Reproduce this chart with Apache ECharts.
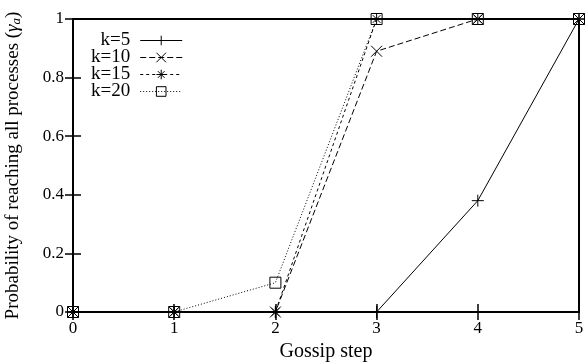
<!DOCTYPE html>
<html>
<head>
<meta charset="utf-8">
<script src="https://cdn.jsdelivr.net/npm/echarts@6/dist/echarts.min.js"></script>
<style>
  html, body { margin: 0; padding: 0; background: #fff; }
  #chart { width: 587px; height: 362px; }
</style>
</head>
<body>
<div id="chart"></div>
<script>
// gossip steps and reach probabilities per fanout k
const steps = [0, 1, 2, 3, 4, 5]
const k5 = [0, 0, 0, 0, 0.38, 1]
const k10 = [0, 0, 0, 0.89, 1, 1]
const k15 = [0, 0, 0, 1, 1, 1]
const k20 = [0, 0, 0.1, 1, 1, 1]

const font = 'Liberation Serif'

// stroked marker shapes (gnuplot style)
const plus = 'path://M0,5 L10,5 M5,0 L5,10'
const cross = 'path://M0,0 L10,10 M0,10 L10,0'
const star = 'path://M0,5 L10,5 M5,0 L5,10 M1.5,1.5 L8.5,8.5 M1.5,8.5 L8.5,1.5'

function pairs(ys) {
  return steps.map((x, i) => [x, ys[i]])
}

function mk(name, ys, symbol, size, type) {
  return {
    name: name,
    type: 'line',
    data: pairs(ys),
    symbol: symbol,
    symbolSize: size,
    showAllSymbol: true,
    animation: false,
    itemStyle: { color: 'transparent', borderColor: '#000', borderWidth: 1 },
    lineStyle: { color: '#000', width: 1, type: type },
    emphasis: { disabled: true }
  }
}

const chart = echarts.init(document.getElementById('chart'))

const tick = { show: true, inside: true, length: 8, lineStyle: { color: '#000', width: 1.5 } }
const line = { show: true, lineStyle: { color: '#000', width: 2 } }

const option = {
  backgroundColor: '#fff',
  textStyle: { fontFamily: font, color: '#000' },
  grid: {
    left: 73, right: 8, top: 19, bottom: 50,
    outerBoundsMode: 'none', containLabel: false,
    show: true, borderColor: '#000', borderWidth: 2
  },
  legend: {
    orient: 'vertical',
    left: 86,
    top: 26,
    align: 'right',
    itemWidth: 42,
    itemHeight: 12,
    itemGap: -2,
    textStyle: { fontFamily: font, fontSize: 19, color: '#000', padding: [0, 5, 0, 0] },
    itemStyle: { color: 'transparent', borderColor: '#000', borderWidth: 1 },
    lineStyle: { width: 1 },
    data: ['k=5', 'k=10', 'k=15', 'k=20']
  },
  xAxis: [
    {
      type: 'value', min: 0, max: 5, interval: 1,
      name: 'Gossip step', nameLocation: 'middle', nameGap: 30,
      nameTextStyle: { fontFamily: font, fontSize: 20, color: '#000' },
      axisLine: line,
      axisTick: tick,
      axisLabel: { fontFamily: font, fontSize: 17, color: '#000', margin: 8 },
      splitLine: { show: false }
    },
    {
      type: 'value', min: 0, max: 5, interval: 1, position: 'top',
      axisLine: line,
      axisTick: tick,
      axisLabel: { show: false },
      splitLine: { show: false }
    }
  ],
  yAxis: [
    {
      type: 'value', min: 0, max: 1, interval: 0.2,
      name: 'Probability of reaching all processes ({g|γ}{s|a})',
      nameLocation: 'middle', nameGap: 50,
      nameTextStyle: {
        fontFamily: font, fontSize: 19, color: '#000',
        rich: {
          g: { fontFamily: font, fontSize: 19, fontStyle: 'italic', color: '#000' },
          s: { fontFamily: font, fontSize: 13, fontStyle: 'italic', color: '#000', verticalAlign: 'bottom', padding: [7, 0, 0, 0] }
        }
      },
      axisLine: line,
      axisTick: tick,
      axisLabel: { fontFamily: font, fontSize: 17, color: '#000', margin: 9 },
      splitLine: { show: false }
    },
    {
      type: 'value', min: 0, max: 1, interval: 0.2, position: 'right',
      axisLine: line,
      axisTick: tick,
      axisLabel: { show: false },
      splitLine: { show: false }
    }
  ],
  series: [
    mk('k=5', k5, plus, 12, 'solid'),
    mk('k=10', k10, cross, 11, [6, 3]),
    mk('k=15', k15, star, 11, [3, 3]),
    mk('k=20', k20, 'rect', 11, [1, 2])
  ]
}

chart.setOption(option)
</script>
</body>
</html>
